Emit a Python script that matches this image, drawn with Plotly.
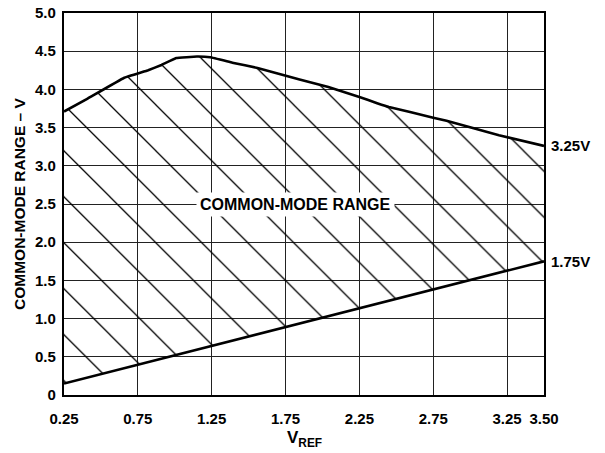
import plotly.graph_objects as go

# Data
vref_upper = [0.25, 0.41, 0.655, 0.82, 0.91, 1.01, 1.15, 1.24, 1.39, 1.56, 1.845,
              2.04, 2.25, 2.37, 2.45, 2.75, 2.84, 3.195, 3.5]
cm_upper = [3.71, 3.88, 4.15, 4.25, 4.32, 4.41, 4.43, 4.42, 4.35, 4.28, 4.13,
            4.03, 3.90, 3.82, 3.77, 3.63, 3.59, 3.40, 3.26]
vref_lower = [0.25, 3.5]
cm_lower = [0.15, 1.75]

x_ticks = [0.25, 0.75, 1.25, 1.75, 2.25, 2.75, 3.25, 3.50]
x_ticktext = ["0.25", "0.75", "1.25", "1.75", "2.25", "2.75", "3.25", "3.50"]
y_ticks = [0, 0.5, 1.0, 1.5, 2.0, 2.5, 3.0, 3.5, 4.0, 4.5, 5.0]
y_ticktext = ["0", "0.5", "1.0", "1.5", "2.0", "2.5", "3.0", "3.5", "4.0", "4.5", "5.0"]

FONT = "Liberation Sans, Arial, Helvetica, sans-serif"

fig = go.Figure()
fig.add_trace(go.Scatter(x=vref_lower, y=cm_lower, mode="lines",
                         line=dict(color="black", width=2.6), showlegend=False,
                         hoverinfo="skip"))
fig.add_trace(go.Scatter(x=vref_upper, y=cm_upper, mode="lines",
                         line=dict(color="black", width=2.6, shape="spline", smoothing=0.2),
                         fill="tonexty", fillcolor="rgba(0,0,0,0)",
                         fillpattern=dict(shape="\\", size=32.5, solidity=0.04,
                                          fgcolor="black", fgopacity=1),
                         showlegend=False, hoverinfo="skip"))

fig.add_annotation(x=1.82, y=2.5, text="<b>COMMON-MODE RANGE</b>", showarrow=False,
                   bgcolor="white", font=dict(family=FONT, size=16, color="black"),
                   borderpad=3)
fig.add_annotation(x=3.5, y=cm_upper[-1], text="<b>3.25V</b>", showarrow=False,
                   xanchor="left", xshift=5, font=dict(family=FONT, size=15, color="black"))
fig.add_annotation(x=3.5, y=cm_lower[-1], text="<b>1.75V</b>", showarrow=False,
                   xanchor="left", xshift=5, font=dict(family=FONT, size=15, color="black"))

# axis titles
fig.add_annotation(xref="paper", yref="paper", x=0, y=0.5, xshift=-45,
                   xanchor="center", yanchor="middle",
                   text="<b>COMMON-MODE RANGE – V</b>", textangle=-90, showarrow=False,
                   font=dict(family=FONT, size=15.5, color="black"))
fig.add_annotation(xref="paper", yref="paper", x=0.5, y=0, yshift=-44,
                   xanchor="center", yanchor="middle",
                   text="<b>V<sub>REF</sub></b>", showarrow=False,
                   font=dict(family=FONT, size=17, color="black"))

axis_common = dict(showgrid=True, gridcolor="#222222", gridwidth=1.4,
                   showline=True, linecolor="black", linewidth=2.4, mirror=True,
                   zeroline=False, ticks="", automargin=False, ticklabeloverflow="allow",
                   tickfont=dict(family=FONT, size=15, color="black", weight="bold"))

fig.update_xaxes(range=[0.25, 3.5], tickmode="array", tickvals=x_ticks, ticktext=x_ticktext,
                 ticklabelstandoff=9, **axis_common)
fig.update_yaxes(range=[0, 5.0], tickmode="array", tickvals=y_ticks, ticktext=y_ticktext,
                 ticklabelstandoff=3, **axis_common)

# page body has an 8px margin: offset the plot area so it lands where the reference has it
fig.update_layout(width=605, height=453, margin=dict(l=56, r=69, t=5, b=66),
                  plot_bgcolor="white", paper_bgcolor="white")

fig.write_html("out.html")
